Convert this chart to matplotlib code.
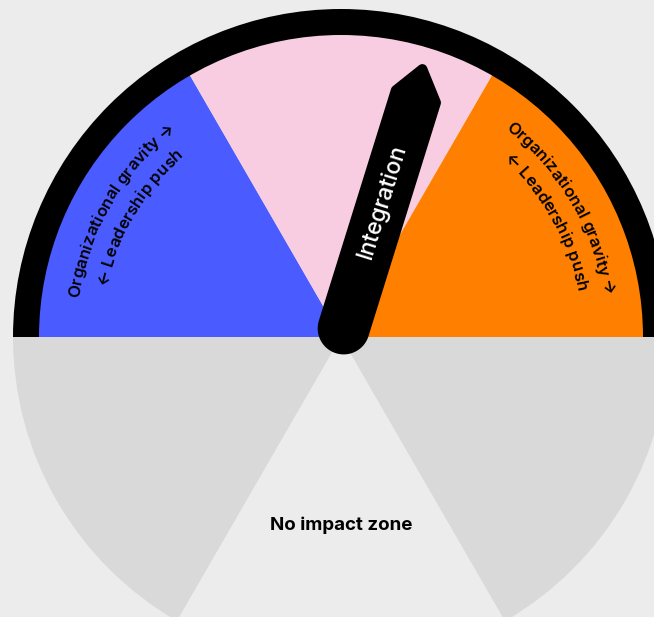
import numpy as np
import matplotlib
matplotlib.use('Agg')
import matplotlib.pyplot as plt
from matplotlib.patches import Wedge, Polygon
from matplotlib.font_manager import FontProperties

# ---------------- data ----------------
top_bounds_deg = [180, 120, 60, 0]          # blue | pink | orange
top_colors = ['#4a5cff', '#f9cde1', '#ff7f00']
bottom_bounds_deg = [180, 240, 300, 360]    # gray | no impact | gray
bottom_colors = ['#d9d9d9', '#ececec', '#d9d9d9']
needle_label = 'Integration'
needle_angle_deg = 72.7
zone_label = 'No impact zone'
outer_line = 'Organizational gravity \u2192'
inner_line = '\u2190 Leadership push'
left_text_center_deg = [150.0, 149.3]
right_text_center_deg = [30.3, 29.3]

BG = '#ececec'
R_OUT, R_IN = 328, 302
R_LINE1, R_LINE2 = 265, 240

fig = plt.figure(figsize=(6.54, 6.17), dpi=100, facecolor=BG)
ax = fig.add_axes([0, 0, 1, 1])
ax.set_facecolor(BG)
ax.set_xlim(-341, 654 - 341)
ax.set_ylim(337 - 617, 337)
ax.axis('off')

# bottom sectors
for a0, a1, c in zip(bottom_bounds_deg[:-1], bottom_bounds_deg[1:], bottom_colors):
    ax.add_patch(Wedge((0, 0), R_OUT, a0, a1, facecolor=c, edgecolor='none'))
# top sectors
for a0, a1, c in zip(top_bounds_deg[:-1], top_bounds_deg[1:], top_colors):
    ax.add_patch(Wedge((0, 0), R_IN + 1, a1, a0, facecolor=c, edgecolor='none'))
# black ring
ax.add_patch(Wedge((0, 0), R_OUT, 0, 180, width=R_OUT - R_IN, facecolor='black', edgecolor='none'))

# needle
th = np.radians(needle_angle_deg)
u = np.array([np.cos(th), np.sin(th)])
n = np.array([np.sin(th), -np.cos(th)])
shrink = 5
h = 26 - shrink
base_s = 9
pts = []
for phi in np.linspace(0, np.pi, 40):
    pts.append((base_s - h * np.sin(phi), h * np.cos(phi)))
pts += [(252, -h), (285 - shrink, -2), (252, h)]
xy = [s * u + p * n for s, p in pts]
ax.add_patch(Polygon(xy, closed=True, facecolor='black', edgecolor='black',
                     linewidth=2 * shrink * 0.72, joinstyle='round'))

family = ['Inter', 'DejaVu Sans']
tc = 141 * u + (-1) * n
ax.text(tc[0], tc[1], needle_label, color='white', fontsize=16.5, family=family,
        weight='medium', rotation=needle_angle_deg, rotation_mode='anchor',
        ha='center', va='center')

ax.text(0, -188, zone_label, color='black', fontsize=13.5, family=family,
        weight='bold', ha='center', va='center')

renderer = fig.canvas.get_renderer()


def curved_text(text, r, center_deg, fontsize, weight='semibold'):
    fp = FontProperties(family=family, size=fontsize, weight=weight)

    def w(s):
        return renderer.get_text_width_height_descent(s, fp, ismath=False)[0]

    total = w(text)
    start = center_deg + np.degrees(total / 2 / r)
    for i, ch in enumerate(text):
        if ch == ' ':
            continue
        mid = w(text[:i + 1]) - w(ch) / 2
        ang = start - np.degrees(mid / r)
        a = np.radians(ang)
        ax.text(r * np.cos(a), r * np.sin(a), ch, fontproperties=fp, color='black',
                rotation=ang - 90, rotation_mode='anchor', ha='center', va='baseline')


for cdeg in (left_text_center_deg, right_text_center_deg):
    curved_text(outer_line, R_LINE1, cdeg[0], 12)
    curved_text(inner_line, R_LINE2, cdeg[1], 12)

fig.savefig('out.png', dpi=100, facecolor=BG)
